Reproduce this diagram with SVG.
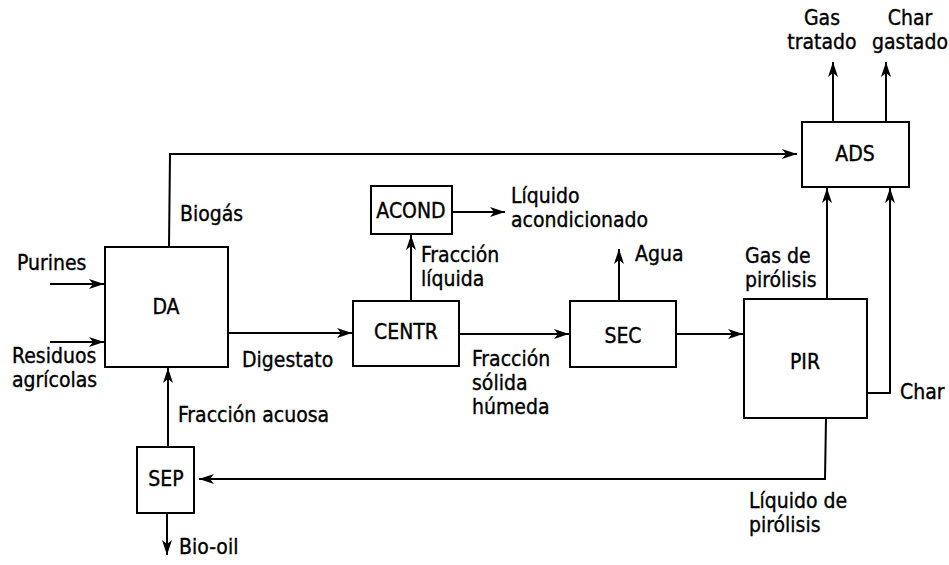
<svg xmlns="http://www.w3.org/2000/svg" width="949" height="565" viewBox="0 0 949 565">
<style>
.box{fill:#fff;stroke:#000;stroke-width:2}
.ln{fill:none;stroke:#000;stroke-width:2}
.ar{marker-end:url(#ah)}
text{font-family:"DejaVu Sans Condensed","DejaVu Sans","Liberation Sans",sans-serif;font-stretch:condensed;font-size:21px;fill:#000;stroke:#000;stroke-width:0.35px}
.c{text-anchor:middle}
</style>
<defs>
<marker id="ah" viewBox="0 0 15 10" refX="15" refY="5" markerWidth="15" markerHeight="10" markerUnits="userSpaceOnUse" orient="auto">
<path d="M0,0 L15,5 L0,10 L4,5 z" fill="#000"/>
</marker>
</defs>
<rect width="949" height="565" fill="#fff"/>
<g id="connectors">
<polyline class="ln ar" points="169,247 170,154 797,154"/>
<line class="ln ar" x1="50" y1="284" x2="104" y2="284"/>
<line class="ln ar" x1="50" y1="342" x2="104" y2="342"/>
<line class="ln ar" x1="228" y1="333" x2="352" y2="333"/>
<line class="ln ar" x1="411" y1="301" x2="411" y2="235"/>
<line class="ln ar" x1="452" y1="212" x2="505" y2="212"/>
<line class="ln ar" x1="459" y1="334" x2="569" y2="334"/>
<line class="ln ar" x1="619" y1="301" x2="619" y2="249"/>
<line class="ln ar" x1="676" y1="334" x2="743" y2="334"/>
<line class="ln ar" x1="827" y1="299" x2="827" y2="188"/>
<polyline class="ln ar" points="867,393 890,393 890,188"/>
<line class="ln ar" x1="833" y1="122" x2="833" y2="62"/>
<line class="ln ar" x1="886" y1="122" x2="886" y2="62"/>
<polyline class="ln ar" points="826,418 825,479 199,479"/>
<line class="ln ar" x1="168" y1="447" x2="168" y2="368"/>
<line class="ln ar" x1="167" y1="513" x2="167" y2="555"/>
</g>
<g id="DA"><rect class="box" x="105" y="247" width="123" height="120"/><text class="c" x="166" y="314">DA</text></g>
<g id="CENTR"><rect class="box" x="353" y="301" width="106" height="65"/><text class="c" x="406" y="339">CENTR</text></g>
<g id="ACOND"><rect class="box" x="371" y="186" width="81" height="48"/><text class="c" x="411" y="218">ACOND</text></g>
<g id="SEC"><rect class="box" x="570" y="301" width="106" height="66"/><text class="c" x="623" y="343">SEC</text></g>
<g id="PIR"><rect class="box" x="744" y="299" width="123" height="119"/><text class="c" x="805" y="369">PIR</text></g>
<g id="ADS"><rect class="box" x="802" y="122" width="107" height="65"/><text class="c" x="855" y="161">ADS</text></g>
<g id="SEP"><rect class="box" x="137" y="447" width="57" height="66"/><text class="c" x="166" y="486">SEP</text></g>
<g id="labels">
<text x="180" y="221">Biogás</text>
<text x="17" y="270">Purines</text>
<text x="12" y="363">Residuos</text>
<text x="12" y="387">agrícolas</text>
<text x="242" y="367">Digestato</text>
<text x="178" y="422">Fracción acuosa</text>
<text x="179" y="554">Bio-oil</text>
<text x="421" y="262">Fracción</text>
<text x="421" y="286">líquida</text>
<text x="511" y="203">Líquido</text>
<text x="511" y="227">acondicionado</text>
<text x="635" y="261">Agua</text>
<text x="472" y="366">Fracción</text>
<text x="472" y="390">sólida</text>
<text x="472" y="414">húmeda</text>
<text x="745" y="263">Gas de</text>
<text x="745" y="287">pirólisis</text>
<text x="900" y="399">Char</text>
<text x="749" y="508">Líquido de</text>
<text x="749" y="532">pirólisis</text>
<text class="c" x="822" y="25">Gas</text>
<text class="c" x="822" y="49">tratado</text>
<text class="c" x="910" y="25">Char</text>
<text class="c" x="910" y="49">gastado</text>
</g>
</svg>
